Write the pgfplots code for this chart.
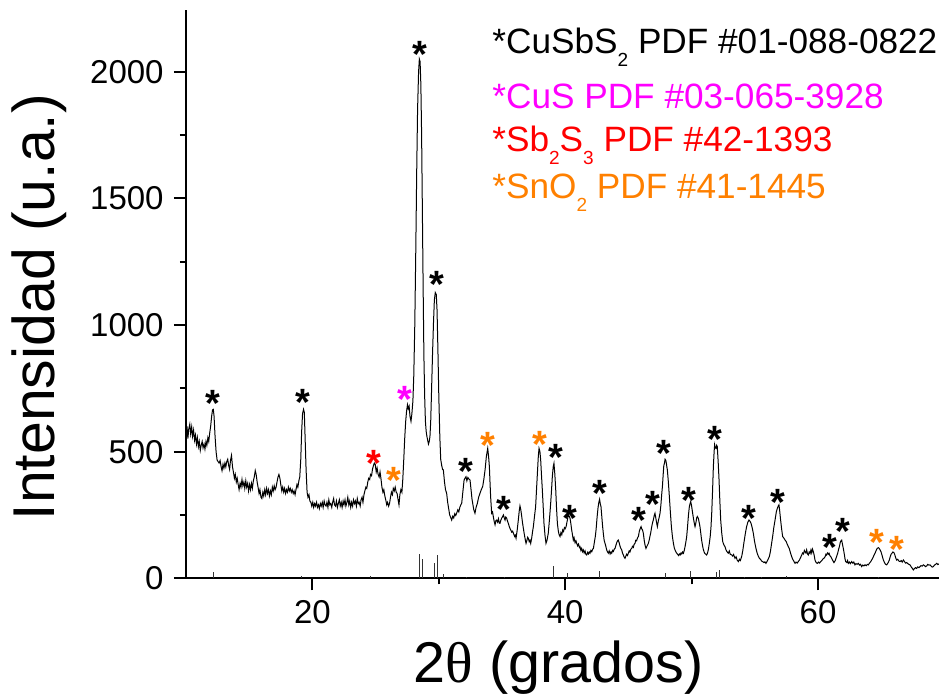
\documentclass[border=0pt]{standalone}
\usepackage{fontspec}
\setmainfont{Liberation Sans}
\newfontfamily\serif{Liberation Serif}
\usepackage{pgfplots}
\pgfplotsset{compat=1.18}
\definecolor{cmag}{RGB}{255,0,255}
\definecolor{cred}{RGB}{255,0,0}
\definecolor{corange}{RGB}{255,128,0}
\newcommand{\sub}[1]{\raisebox{-6.5pt}{\fontsize{9.5}{10}\selectfont #1}}
\newcommand{\legfont}{\fontsize{17.6}{21}\selectfont}

\begin{document}
\begin{tikzpicture}
\begin{axis}[
  scale only axis,
  width=376.5pt, height=284.15pt,
  xmin=10, xmax=69.57,
  ymin=0, ymax=2244,
  axis lines=left,
  axis line style={-, line width=1pt},
  clip=false,
  xtick={20,40,60},
  ytick={0,500,1000,1500,2000},
  minor x tick num=1,
  minor y tick num=1,
  tick align=outside,
  major tick length=6pt,
  minor tick length=3pt,
  every tick/.style={line width=1pt, black},
  /pgf/number format/assume math mode=true,
  /pgf/number format/1000 sep={},
  tick label style={font=\fontsize{16.5}{19.8}\selectfont},
  xticklabel style={anchor=north, inner sep=0pt, yshift=-5pt},
  yticklabel style={anchor=east, inner sep=0pt, xshift=-5pt},
  xlabel={2{\serif θ} (grados)},
  ylabel={Intensidad (u.a.)},
  xlabel style={font=\fontsize{28.75}{34}\selectfont, at={(axis description cs:0.495,0)}, anchor=base, yshift=-52.35pt, inner sep=0pt},
  ylabel style={font=\fontsize{29.5}{35}\selectfont, at={(axis description cs:0,0.477)}, anchor=base, yshift=65.5pt, inner sep=0pt},
]
% reference pattern sticks
\addplot[ycomb, line width=0.4pt, black!80, mark=none] coordinates {
  (12.16,26) (19.15,9) (24.56,9) (28.46,97) (28.72,75) (29.64,61) (29.91,92)
  (30.36,16) (32.2,5) (35.18,5) (39.06,49) (40.17,20) (42.7,29) (47.9,20)
  (49.87,29) (51.98,26) (52.17,32) (54.2,7) (55.5,7) (57.5,9) (64.77,7)
};
% measured pattern
\addplot[black, line width=0.5pt, mark=none] coordinates {
(10.00,566) (10.08,600) (10.15,552) (10.22,590) (10.30,608) (10.37,570) (10.45,598) (10.52,560)
(10.60,585) (10.68,545) (10.75,565) (10.83,530) (10.90,555) (10.98,520) (11.05,540) (11.13,505)
(11.20,525) (11.28,540) (11.35,515) (11.43,530) (11.50,510) (11.58,540) (11.65,525) (11.73,555)
(11.80,540) (11.88,575) (11.95,600) (12.03,640) (12.10,665) (12.16,667) (12.22,640) (12.30,560)
(12.38,500) (12.46,467) (12.55,460) (12.62,455) (12.70,465) (12.78,440) (12.85,425) (12.93,450)
(13.00,435) (13.08,455) (13.15,440) (13.22,460) (13.30,470) (13.38,445) (13.45,430) (13.52,465)
(13.60,485) (13.68,440) (13.75,420) (13.83,395) (13.90,410) (13.98,380) (14.05,395) (14.13,370)
(14.20,350) (14.28,375) (14.35,360) (14.43,390) (14.50,365) (14.58,380) (14.65,355) (14.73,385)
(14.80,360) (14.88,375) (14.95,345) (15.03,370) (15.10,350) (15.18,375) (15.25,355) (15.33,385)
(15.40,400) (15.48,425) (15.55,410) (15.63,380) (15.70,360) (15.78,335) (15.85,350) (15.93,320)
(16.00,315) (16.08,340) (16.15,325) (16.23,350) (16.30,330) (16.38,355) (16.45,335) (16.53,350)
(16.60,325) (16.68,345) (16.75,330) (16.83,360) (16.90,345) (16.98,365) (17.05,350) (17.13,360)
(17.20,380) (17.28,400) (17.35,410) (17.43,395) (17.50,370) (17.58,345) (17.65,360) (17.73,340)
(17.80,355) (17.88,335) (17.95,350) (18.03,340) (18.10,360) (18.18,345) (18.25,355) (18.33,340)
(18.40,350) (18.48,335) (18.55,345) (18.63,330) (18.70,350) (18.78,370) (18.85,360) (18.93,385)
(19.00,400) (19.08,470) (19.15,580) (19.22,650) (19.30,667) (19.36,655) (19.42,560) (19.50,430)
(19.58,340) (19.65,320) (19.73,330) (19.80,305) (19.88,300) (19.95,285) (20.03,300) (20.10,280)
(20.18,295) (20.25,285) (20.33,300) (20.40,280) (20.48,290) (20.55,275) (20.63,295) (20.70,285)
(20.78,300) (20.85,280) (20.93,305) (21.00,290) (21.08,285) (21.15,300) (21.23,280) (21.30,310)
(21.38,290) (21.45,295) (21.53,280) (21.60,300) (21.68,315) (21.75,290) (21.83,285) (21.90,305)
(21.98,280) (22.05,295) (22.13,310) (22.20,285) (22.28,300) (22.35,280) (22.43,305) (22.50,290)
(22.58,310) (22.65,285) (22.73,300) (22.80,320) (22.88,290) (22.95,305) (23.03,280) (23.10,300)
(23.18,285) (23.25,310) (23.33,295) (23.40,305) (23.48,285) (23.55,315) (23.63,295) (23.70,300)
(23.78,285) (23.85,310) (23.93,320) (24.00,300) (24.08,330) (24.15,345) (24.23,360) (24.30,355)
(24.38,380) (24.45,395) (24.53,390) (24.60,410) (24.68,405) (24.75,430) (24.83,445) (24.90,455)
(24.97,450) (25.05,420) (25.12,435) (25.20,410) (25.28,400) (25.35,420) (25.42,395) (25.50,360)
(25.58,340) (25.65,350) (25.73,325) (25.80,310) (25.88,290) (25.95,300) (26.03,285) (26.10,295)
(26.18,320) (26.25,340) (26.33,330) (26.40,355) (26.48,345) (26.55,360) (26.63,340) (26.70,335)
(26.78,310) (26.85,290) (26.92,330) (27.00,350) (27.08,340) (27.15,390) (27.22,460) (27.30,550)
(27.38,620) (27.45,660) (27.52,685) (27.58,670) (27.65,680) (27.72,640) (27.80,620) (27.87,650)
(27.95,700) (28.02,800) (28.10,1000) (28.18,1300) (28.25,1600) (28.32,1850) (28.40,2000) (28.46,2050)
(28.52,2040) (28.58,1950) (28.64,1750) (28.70,1450) (28.76,1150) (28.82,880) (28.88,720) (28.94,620)
(29.00,580) (29.06,560) (29.12,545) (29.18,530) (29.24,540) (29.30,560) (29.36,620) (29.42,730)
(29.50,880) (29.58,1010) (29.65,1100) (29.72,1128) (29.80,1120) (29.86,1060) (29.93,900) (30.00,720)
(30.08,560) (30.15,470) (30.23,445) (30.30,430) (30.36,428) (30.45,380) (30.53,350) (30.62,336)
(30.70,300) (30.78,275) (30.86,250) (30.94,240) (31.02,230) (31.10,245) (31.18,238) (31.26,255)
(31.34,248) (31.41,257) (31.50,270) (31.58,262) (31.66,280) (31.74,290) (31.81,296) (31.90,340)
(32.00,388) (32.08,396) (32.15,401) (32.22,385) (32.30,398) (32.38,392) (32.47,388) (32.55,350)
(32.62,315) (32.68,296) (32.77,270) (32.86,257) (32.95,280) (33.05,296) (33.15,320) (33.26,336)
(33.36,350) (33.47,362) (33.56,390) (33.66,428) (33.76,480) (33.87,513) (33.94,480) (34.00,441)
(34.05,380) (34.10,322) (34.18,257) (34.25,262) (34.31,244) (34.38,225) (34.45,211) (34.52,228)
(34.58,230) (34.65,222) (34.72,235) (34.78,218) (34.84,217) (34.90,228) (34.97,237) (35.04,243)
(35.11,250) (35.18,238) (35.24,230) (35.30,242) (35.37,237) (35.44,225) (35.50,217) (35.57,205)
(35.63,197) (35.70,190) (35.77,182) (35.84,186) (35.90,178) (36.00,165) (36.05,170) (36.11,158)
(36.20,190) (36.29,230) (36.36,265) (36.42,286) (36.49,270) (36.56,244) (36.62,220) (36.69,197)
(36.76,175) (36.83,155) (36.90,138) (36.97,150) (37.03,162) (37.08,158) (37.15,145) (37.21,150)
(37.27,138) (37.35,160) (37.42,185) (37.48,204) (37.56,240) (37.66,283) (37.73,350) (37.80,415)
(37.87,480) (37.93,513) (38.00,500) (38.06,467) (38.12,410) (38.19,349) (38.26,280) (38.32,217)
(38.40,170) (38.48,138) (38.56,150) (38.66,178) (38.75,230) (38.85,296) (38.92,350) (38.98,401)
(39.05,440) (39.11,454) (39.18,410) (39.25,349) (39.31,280) (39.38,217) (39.46,185) (39.52,172)
(39.59,165) (39.66,180) (39.73,172) (39.80,191) (39.87,185) (39.94,200) (40.00,196) (40.07,204)
(40.15,225) (40.25,250) (40.32,245) (40.38,237) (40.45,215) (40.51,191) (40.58,170) (40.64,151)
(40.70,160) (40.78,140) (40.85,148) (40.91,138) (40.98,128) (41.05,135) (41.12,122) (41.17,125)
(41.24,110) (41.30,118) (41.37,105) (41.43,112) (41.50,100) (41.57,108) (41.63,95) (41.70,92)
(41.77,102) (41.83,96) (41.90,104) (41.96,99) (42.03,110) (42.10,105) (42.17,115) (42.23,118)
(42.30,140) (42.38,165) (42.44,191) (42.52,240) (42.60,280) (42.66,300) (42.72,312) (42.77,295)
(42.83,283) (42.90,240) (42.96,204) (43.02,175) (43.08,150) (43.15,138) (43.22,125) (43.28,112)
(43.35,104) (43.41,99) (43.48,108) (43.55,96) (43.62,104) (43.68,99) (43.75,110) (43.81,106)
(43.88,115) (43.94,118) (44.01,130) (44.07,140) (44.14,148) (44.20,151) (44.27,140) (44.33,128)
(44.40,118) (44.47,112) (44.53,100) (44.60,92) (44.66,84) (44.73,79) (44.80,88) (44.86,95)
(44.93,90) (44.99,99) (45.06,108) (45.12,104) (45.19,115) (45.26,118) (45.32,126) (45.39,122)
(45.45,134) (45.52,138) (45.58,150) (45.65,148) (45.72,160) (45.79,165) (45.86,185) (45.93,196)
(46.00,204) (46.06,195) (46.12,190) (46.18,178) (46.25,150) (46.32,130) (46.39,118) (46.45,125)
(46.52,132) (46.58,138) (46.64,150) (46.70,165) (46.76,178) (46.83,200) (46.90,218) (46.97,230)
(47.04,248) (47.10,257) (47.16,240) (47.22,222) (47.29,204) (47.36,225) (47.43,240) (47.50,257)
(47.57,290) (47.63,330) (47.69,362) (47.75,410) (47.80,445) (47.85,454) (47.90,470) (47.95,467)
(48.00,455) (48.04,440) (48.08,428) (48.16,380) (48.24,322) (48.32,260) (48.40,204) (48.48,165)
(48.56,138) (48.63,120) (48.70,110) (48.76,104) (48.82,99) (48.89,95) (48.96,90) (49.03,96)
(49.09,92) (49.16,100) (49.22,96) (49.29,104) (49.35,99) (49.42,110) (49.48,125) (49.55,145)
(49.61,165) (49.68,205) (49.75,250) (49.82,283) (49.88,295) (49.93,303) (50.00,285) (50.08,257)
(50.15,235) (50.22,215) (50.27,204) (50.34,220) (50.40,238) (50.45,244) (50.53,237) (50.60,220)
(50.66,204) (50.72,180) (50.79,151) (50.86,130) (50.92,115) (50.98,105) (51.05,98) (51.12,95)
(51.19,92) (51.26,100) (51.33,115) (51.40,138) (51.47,165) (51.53,200) (51.59,257) (51.66,350)
(51.72,441) (51.78,500) (51.82,527) (51.87,515) (51.93,513) (51.98,525) (52.03,520) (52.10,460)
(52.17,388) (52.23,310) (52.30,230) (52.38,180) (52.46,145) (52.55,132) (52.64,125) (52.72,112)
(52.80,105) (52.90,99) (52.98,108) (53.05,95) (53.17,92) (53.25,88) (53.32,94) (53.43,79)
(53.52,85) (53.60,72) (53.70,66) (53.78,75) (53.85,70) (53.96,86) (54.05,110) (54.12,135)
(54.17,151) (54.26,180) (54.35,204) (54.45,222) (54.54,230) (54.62,225) (54.70,217) (54.79,200)
(54.88,178) (54.98,145) (55.09,118) (55.18,100) (55.27,88) (55.36,79) (55.45,75) (55.54,68)
(55.62,66) (55.72,62) (55.80,65) (55.88,59) (55.96,66) (56.05,75) (56.15,86) (56.23,105)
(56.32,135) (56.41,165) (56.50,200) (56.60,230) (56.70,262) (56.78,276) (56.85,285) (56.91,290)
(56.97,265) (57.04,230) (57.12,195) (57.20,165) (57.28,160) (57.39,151) (57.48,145) (57.56,135)
(57.65,125) (57.72,118) (57.80,104) (57.91,86) (58.00,75) (58.08,68) (58.18,59) (58.26,64)
(58.35,60) (58.44,66) (58.53,72) (58.62,82) (58.71,92) (58.78,100) (58.85,96) (58.92,110)
(58.97,105) (59.04,100) (59.10,112) (59.17,96) (59.23,92) (59.30,104) (59.37,98) (59.44,112)
(59.50,100) (59.56,115) (59.63,105) (59.70,90) (59.76,72) (59.85,62) (59.94,59) (60.03,64)
(60.12,60) (60.21,66) (60.30,70) (60.38,76) (60.47,79) (60.56,85) (60.62,95) (60.68,92)
(60.75,100) (60.82,95) (60.87,99) (60.95,88) (61.02,85) (61.08,79) (61.17,70) (61.26,62)
(61.36,70) (61.47,86) (61.56,100) (61.63,115) (61.69,125) (61.75,140) (61.81,148) (61.87,151)
(61.93,135) (62.00,118) (62.08,95) (62.13,78) (62.19,66) (62.28,62) (62.34,70) (62.40,59)
(62.48,64) (62.56,58) (62.66,66) (62.75,60) (62.83,64) (62.92,53) (63.00,58) (63.09,55)
(63.19,59) (63.28,52) (63.36,55) (63.45,46) (63.54,52) (63.63,49) (63.72,53) (63.81,50)
(63.90,55) (63.98,53) (64.07,60) (64.16,65) (64.24,72) (64.33,80) (64.42,90) (64.51,99)
(64.60,110) (64.68,118) (64.77,121) (64.84,118) (64.91,112) (64.98,105) (65.07,90) (65.15,75)
(65.22,66) (65.30,58) (65.36,55) (65.43,53) (65.50,58) (65.57,64) (65.64,72) (65.71,85)
(65.78,95) (65.85,99) (65.92,104) (66.01,101) (66.08,92) (66.15,80) (66.22,72) (66.30,75)
(66.40,68) (66.49,66) (66.58,70) (66.66,64) (66.75,72) (66.84,66) (66.92,60) (67.01,62)
(67.10,58) (67.19,55) (67.28,53) (67.37,45) (67.45,40) (67.54,33) (67.62,38) (67.71,42)
(67.80,39) (67.89,45) (67.98,42) (68.07,46) (68.15,50) (68.24,48) (68.33,53) (68.42,50)
(68.50,46) (68.60,49) (68.68,55) (68.77,52) (68.86,53) (68.95,48) (69.03,44) (69.12,46)
(69.21,52) (69.30,55) (69.39,59) (69.48,54) (69.57,57)
};
% phase markers
\begin{scope}[every node/.style={anchor=base, inner sep=0pt, font=\fontsize{19}{22}\selectfont\bfseries}]
\node[black] at (axis cs:12.11,640) {*};
\node[black] at (axis cs:19.28,644) {*};
\node[cred] at (axis cs:24.90,403) {*};
\node[corange] at (axis cs:26.48,333) {*};
\node[cmag] at (axis cs:27.33,653) {*};
\node[black] at (axis cs:28.51,2015) {*};
\node[black] at (axis cs:29.83,1107) {*};
\node[black] at (axis cs:32.15,370) {*};
\node[corange] at (axis cs:33.87,473) {*};
\node[black] at (axis cs:35.16,219) {*};
\node[corange] at (axis cs:38.00,475) {*};
\node[black] at (axis cs:39.27,425) {*};
\node[black] at (axis cs:40.38,186) {*};
\node[black] at (axis cs:42.75,284) {*};
\node[black] at (axis cs:45.86,175) {*};
\node[black] at (axis cs:46.92,241) {*};
\node[black] at (axis cs:47.82,442) {*};
\node[black] at (axis cs:49.82,254) {*};
\node[black] at (axis cs:51.85,495) {*};
\node[black] at (axis cs:54.54,186) {*};
\node[black] at (axis cs:56.86,249) {*};
\node[black] at (axis cs:60.90,70) {*};
\node[black] at (axis cs:61.95,133) {*};
\node[corange] at (axis cs:64.64,91) {*};
\node[corange] at (axis cs:66.22,61) {*};
\end{scope}
% phase list
\begin{scope}[every node/.style={anchor=base west, inner sep=0pt, font=\legfont}]
\node[black] at (axis cs:34.21,2073) {*CuSbS\sub{2} PDF \#01-088-0822};
\node[cmag] at (axis cs:34.21,1856) {*CuS PDF \#03-065-3928};
\node[cred] at (axis cs:34.21,1685) {*Sb\sub{2}S\sub{3} PDF \#42-1393};
\node[corange] at (axis cs:34.21,1501) {*SnO\sub{2} PDF \#41-1445};
\end{scope}
\end{axis}
\pgfresetboundingbox
\path[use as bounding box] ([xshift=-93pt,yshift=-57.85pt]current axis.south west) rectangle ([yshift=5pt]current axis.north east);
\end{tikzpicture}
\end{document}
